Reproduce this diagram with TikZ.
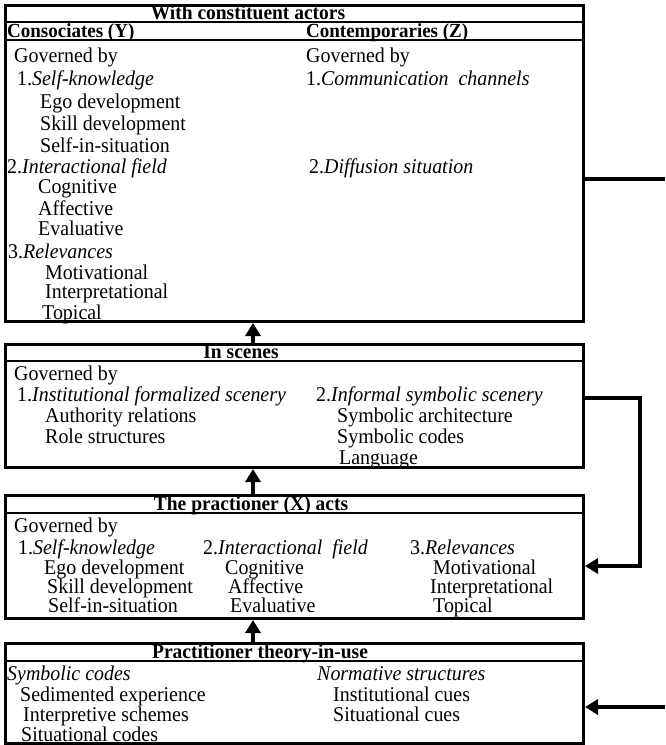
\documentclass[tikz,border=0pt]{standalone}
\usepackage{fontspec}
\setmainfont{Liberation Serif}[FakeStretch=0.95]
\usetikzlibrary{arrows.meta}
\begin{document}
\begin{tikzpicture}[x=1pt,y=-1pt,
  frame/.style={draw, line width=3pt, rectangle, inner sep=0, anchor=north west},
  sep/.style={line width=1.6pt},
  conn/.style={line width=4pt},
  arr/.style={line width=4pt, -{Triangle[width=15pt,length=13pt]}},
  txt/.style={anchor=base west, inner sep=0, font=\fontsize{21}{23}\selectfont},
  ttl/.style={anchor=base, inner sep=0, font=\fontsize{20.5}{22}\selectfont\bfseries},
  hd/.style={anchor=base west, inner sep=0, font=\fontsize{20}{22}\selectfont\bfseries}]
\useasboundingbox (0,0) rectangle (665,745);

% ---------- Box 1
\node[frame, minimum width=578pt, minimum height=316pt] (b1) at (4,4) {};
\draw[sep] (4,22) -- (582,22);
\draw[sep] (4,40) -- (582,40);
\node[ttl] (t1) at (248,19.5) {With constituent actors};
\node[hd] (h1) at (7,37.5) {Consociates (Y)};
\node[hd] (h2) at (306,37.5) {Contemporaries (Z)};
\node[txt] (a1) at (14,62) {Governed by};
\node[txt] (a2) at (17,85) {1.\textit{Self-knowledge}};
\node[txt] (a3) at (40,108) {Ego development};
\node[txt] (a4) at (40,130) {Skill development};
\node[txt] (a5) at (40,152) {Self-in-situation};
\node[txt] (a6) at (7,173) {2.\textit{Interactional field}};
\node[txt] (a7) at (38,193) {Cognitive};
\node[txt] (a8) at (38,215) {Affective};
\node[txt] (a9) at (38,235) {Evaluative};
\node[txt] (a10) at (8,258) {3.\textit{Relevances}};
\node[txt] (a11) at (45,279) {Motivational};
\node[txt] (a12) at (45,298) {Interpretational};
\node[txt] (a13) at (42,319) {Topical};
\node[txt] (c1) at (306,62) {Governed by};
\node[txt] (c2) at (306,85) {1.\textit{Communication\ \ channels}};
\node[txt] (c3) at (309,173) {2.\textit{Diffusion situation}};

% ---------- Box 2
\node[frame, minimum width=578pt, minimum height=123pt] (b2) at (4,343) {};
\draw[sep] (4,361) -- (582,361);
\node[ttl] (t2) at (241,358.5) {In scenes};
\node[txt] (d1) at (14,380) {Governed by};
\node[txt] (d2) at (17,401) {1.\textit{Institutional formalized scenery}};
\node[txt] (d3) at (45,422) {Authority relations};
\node[txt] (d4) at (45,443) {Role structures};
\node[txt] (e1) at (316,401) {2.\textit{Informal symbolic scenery}};
\node[txt] (e2) at (337,422) {Symbolic architecture};
\node[txt] (e3) at (337,443) {Symbolic codes};
\node[txt] (e4) at (339,464) {Language};

% ---------- Box 3
\node[frame, minimum width=578pt, minimum height=123pt] (b3) at (4,494) {};
\draw[sep] (4,513) -- (582,513);
\node[ttl] (t3) at (251,510.5) {The practioner (X) acts};
\node[txt] (f1) at (14,532) {Governed by};
\node[txt] (f2) at (18,554) {1.\textit{Self-knowledge}};
\node[txt] (f3) at (44,574) {Ego development};
\node[txt] (f4) at (47,593) {Skill development};
\node[txt] (f5) at (48,612) {Self-in-situation};
\node[txt] (g1) at (203,554) {2.\textit{Interactional\ \ field}};
\node[txt] (g2) at (225,574) {Cognitive};
\node[txt] (g3) at (228,593) {Affective};
\node[txt] (g4) at (230,612) {Evaluative};
\node[txt] (k1) at (410,554) {3.\textit{Relevances}};
\node[txt] (k2) at (433,574) {Motivational};
\node[txt] (k3) at (430,593) {Interpretational};
\node[txt] (k4) at (433,612) {Topical};

% ---------- Box 4
\node[frame, minimum width=578pt, minimum height=100pt] (b4) at (4,642) {};
\draw[sep] (4,661) -- (582,661);
\node[ttl] (t4) at (260,658.5) {Practitioner theory-in-use};
\node[txt] (m1) at (7,680) {\textit{Symbolic codes}};
\node[txt] (m2) at (20,701) {Sedimented experience};
\node[txt] (m3) at (23,721) {Interpretive schemes};
\node[txt] (m4) at (21,741) {Situational codes};
\node[txt] (n1) at (317,680) {\textit{Normative structures}};
\node[txt] (n2) at (333,701) {Institutional cues};
\node[txt] (n3) at (333,721) {Situational cues};

% ---------- connectors
\draw[arr] ([xshift=249pt]b2.north west) -- ([xshift=249pt]b1.south west);
\draw[arr] ([xshift=249pt]b3.north west) -- ([xshift=249pt]b2.south west);
\draw[arr] ([xshift=249pt]b4.north west) -- ([xshift=249pt]b3.south west);

\coordinate (r1) at (665,179);
\draw[conn] (b1.east |- r1) -- (r1);

\coordinate (r2) at (640,398);
\coordinate (r3) at (640,566);
\draw[arr] (b2.east |- r2) -- (r2) -- (r3) -- (b3.east |- r3);

\coordinate (r4) at (665,707);
\draw[arr] (r4) -- (b4.east |- r4);
\end{tikzpicture}
\end{document}
